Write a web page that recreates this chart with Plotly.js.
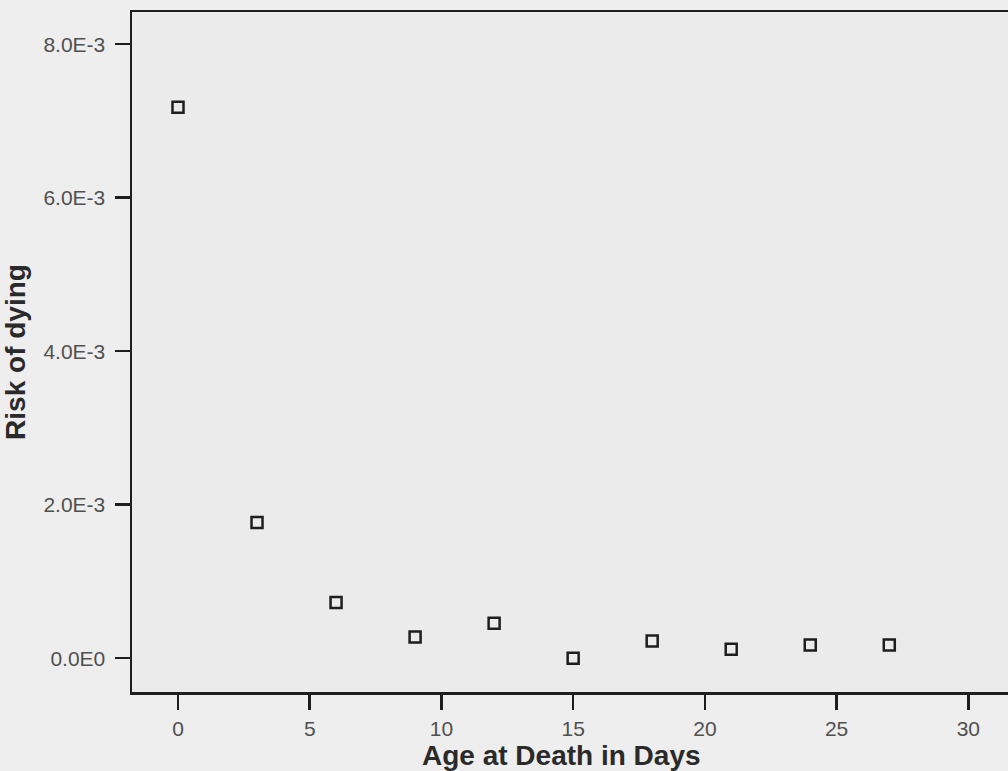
<!DOCTYPE html>
<html>
<head>
<meta charset="utf-8">
<script src="https://cdn.plot.ly/plotly-3.0.1.min.js"></script>
<style>
html,body{margin:0;padding:0;overflow:hidden;background:#eeeeee;}
#chart{width:1040px;height:771px;}
</style>
</head>
<body>
<div id="chart"></div>
<script>
// Data
const ageDays = [0, 3, 6, 9, 12, 15, 18, 21, 24, 27];
const riskOfDying = [0.00718, 0.00177, 0.000725, 0.000275, 0.000457, 0.0, 0.000226, 0.000117, 0.000173, 0.000173];
const yTickVals = [0, 0.002, 0.004, 0.006, 0.008];
const yTickText = ["0.0E0", "2.0E-3", "4.0E-3", "6.0E-3", "8.0E-3"];
const xTickVals = [0, 5, 10, 15, 20, 25, 30];

const axisColor = '#1e1e1e';
const trace = {
  x: ageDays,
  y: riskOfDying,
  type: 'scatter',
  mode: 'markers',
  marker: {symbol: 'square-open', size: 11, color: '#1e1e1e', line: {width: 2.5, color: '#1e1e1e'}},
  hoverinfo: 'x+y'
};

const layout = {
  width: 1040,
  height: 771,
  margin: {l: 132, r: 19, t: 12, b: 79},
  paper_bgcolor: '#eeeeee',
  plot_bgcolor: '#ebebeb',
  showlegend: false,
  font: {family: 'Liberation Sans, Arial, sans-serif', color: '#555555', size: 21},
  xaxis: {
    range: [-1.746, 32],
    tickvals: xTickVals,
    ticktext: xTickVals.map(String),
    ticks: 'outside', ticklen: 15, tickwidth: 2.5, tickcolor: axisColor,
    showline: true, linecolor: axisColor, linewidth: 2.5, mirror: true,
    showgrid: false, zeroline: false,
    tickfont: {size: 21, color: '#505050'},
    ticklabelstandoff: 1
  },
  yaxis: {
    range: [-0.00044, 0.00842],
    tickvals: yTickVals,
    ticktext: yTickText,
    ticks: 'outside', ticklen: 15, tickwidth: 2.5, tickcolor: axisColor,
    showline: true, linecolor: axisColor, linewidth: 2.5, mirror: true,
    showgrid: false, zeroline: false,
    tickfont: {size: 21, color: '#505050'},
    ticklabelstandoff: 5,
    title: {text: 'Risk of dying', font: {size: 28, color: '#2a2a2a', family: 'Liberation Sans, Arial, sans-serif', weight: 'bold'}, standoff: 12}
  },
  annotations: [{
    text: '<b>Age at Death in Days</b>',
    xref: 'paper', yref: 'paper',
    x: 0.4826, y: -0.093,
    xanchor: 'center', yanchor: 'middle',
    showarrow: false,
    font: {size: 28, color: '#2a2a2a', family: 'Liberation Sans, Arial, sans-serif'}
  }]
};

Plotly.newPlot('chart', [trace], layout, {displayModeBar: false, staticPlot: true});
</script>
</body>
</html>
